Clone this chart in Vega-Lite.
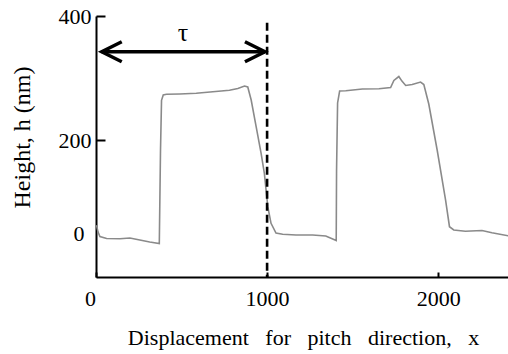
{
  "$schema": "https://vega.github.io/schema/vega-lite/v6.json",
  "width": 412,
  "height": 261,
  "autosize": {"type": "none"},
  "padding": {"left": 96, "top": 16, "right": 0, "bottom": 77},
  "background": "white",
  "config": {
    "view": {"stroke": null},
    "font": "Liberation Serif"
  },
  "datasets": {
    "profile": [
      {"x": 3, "h": 17},
      {"x": 12, "h": 2},
      {"x": 23, "h": -7.5},
      {"x": 62, "h": -11.8},
      {"x": 140, "h": -12.3},
      {"x": 198, "h": -10.8},
      {"x": 256, "h": -15.1},
      {"x": 314, "h": -19.4},
      {"x": 370, "h": -23},
      {"x": 377, "h": 178},
      {"x": 383, "h": 264},
      {"x": 393, "h": 272.6},
      {"x": 412, "h": 273.7},
      {"x": 489, "h": 274.2},
      {"x": 586, "h": 275.3},
      {"x": 683, "h": 277.9},
      {"x": 780, "h": 280.2},
      {"x": 829, "h": 283.1},
      {"x": 868, "h": 287.1},
      {"x": 887, "h": 285.5},
      {"x": 907, "h": 264.5},
      {"x": 936, "h": 221.5},
      {"x": 965, "h": 171.4},
      {"x": 984, "h": 128.4},
      {"x": 1004, "h": 56.6},
      {"x": 1023, "h": 20.9},
      {"x": 1052, "h": 0},
      {"x": 1091, "h": -2.8},
      {"x": 1169, "h": -4.3},
      {"x": 1266, "h": -4.3},
      {"x": 1343, "h": -6.5},
      {"x": 1404, "h": -16.1},
      {"x": 1406, "h": 135.5},
      {"x": 1412, "h": 259.7},
      {"x": 1424, "h": 279},
      {"x": 1460, "h": 279.5},
      {"x": 1557, "h": 282.3},
      {"x": 1654, "h": 282.7},
      {"x": 1722, "h": 284.7},
      {"x": 1741, "h": 296},
      {"x": 1770, "h": 302.4},
      {"x": 1788, "h": 295},
      {"x": 1810, "h": 287.9},
      {"x": 1848, "h": 289.5},
      {"x": 1897, "h": 293.5},
      {"x": 1916, "h": 289.5},
      {"x": 1945, "h": 258},
      {"x": 1994, "h": 178.5},
      {"x": 2043, "h": 71},
      {"x": 2066, "h": 13.5},
      {"x": 2091, "h": 6.5},
      {"x": 2159, "h": 3.7},
      {"x": 2256, "h": 5.4},
      {"x": 2314, "h": 0.6},
      {"x": 2410, "h": -6}
    ]
  },
  "layer": [
    {
      "data": {"name": "profile"},
      "mark": {"type": "line", "color": "#8a8a8a", "strokeWidth": 1.6, "clip": true},
      "encoding": {
        "x": {
          "field": "x",
          "type": "quantitative",
          "scale": {"domain": [0, 2408], "nice": false, "zero": false},
          "axis": {
            "values": [0, 1000, 2000],
            "format": "d",
            "title": "Displacement \u00a0 for \u00a0 pitch \u00a0 direction, \u00a0 x",
            "titleFont": "Liberation Serif",
            "titleFontSize": 22,
            "titleFontWeight": "normal",
            "titleColor": "black",
            "titleX": 207,
            "titleY": 60,
            "titleBaseline": "middle",
            "titleAlign": "center",
            "labelFont": "Liberation Serif",
            "labelFontSize": 22,
            "labelColor": "black",
            "labelFlush": false,
            "labelOverlap": false,
            "labelPadding": 16,
            "labelOffset": {"condition": {"test": "datum.value === 0", "value": -6}, "value": 0},
            "tickSize": -5,
            "tickWidth": 2,
            "tickColor": "black",
            "domainColor": "black",
            "domainWidth": 2,
            "grid": false
          }
        },
        "y": {
          "field": "h",
          "type": "quantitative",
          "scale": {"domain": [-95, 0, 200, 400], "range": [261, 217, 124, 0], "nice": false, "zero": false},
          "axis": {
            "values": [0, 200, 400],
            "format": "d",
            "title": "Height, h (nm)",
            "titleFont": "Liberation Serif",
            "titleFontSize": 24,
            "titleFontWeight": "normal",
            "titleColor": "black",
            "titleX": -74,
            "titleY": 121,
            "titleAngle": -90,
            "titleBaseline": "middle",
            "titleAlign": "center",
            "labelFont": "Liberation Serif",
            "labelFontSize": 22,
            "labelColor": "black",
            "labelFlush": false,
            "labelOverlap": false,
            "labelPadding": {"condition": {"test": "datum.value === 0", "value": 21}, "value": 14},
            "tickSize": -9,
            "tickWidth": 2,
            "tickColor": "black",
            "tickOpacity": {"condition": {"test": "datum.value === 0", "value": 0}, "value": 1},
            "domainColor": "black",
            "domainWidth": 2,
            "grid": false
          }
        }
      }
    },
    {
      "mark": {"type": "rule", "color": "black", "strokeWidth": 2},
      "encoding": {
        "x": {"datum": 0, "type": "quantitative"},
        "x2": {"datum": 2408},
        "y": {"datum": 400, "type": "quantitative"}
      }
    },
    {
      "data": {"values": [{"x": 1000, "top": 389, "bottom": -95}]},
      "mark": {"type": "rule", "color": "black", "strokeWidth": 2.6, "strokeDash": [8, 4]},
      "encoding": {
        "x": {"field": "x", "type": "quantitative"},
        "y": {"field": "top", "type": "quantitative"},
        "y2": {"field": "bottom"}
      }
    },
    {
      "data": {"values": [{"start": 33, "end": 988, "h": 342.4}]},
      "mark": {"type": "rule", "color": "black", "strokeWidth": 3.5},
      "encoding": {
        "x": {"field": "start", "type": "quantitative"},
        "x2": {"field": "end"},
        "y": {"field": "h", "type": "quantitative"}
      }
    },
    {
      "data": {"values": [{"x": 92, "h": 342.4}]},
      "mark": {"type": "point", "shape": "M1,-1L-1,0L1,1", "size": 400, "filled": false, "stroke": "black", "strokeWidth": 3.5, "opacity": 1},
      "encoding": {
        "x": {"field": "x", "type": "quantitative"},
        "y": {"field": "h", "type": "quantitative"}
      }
    },
    {
      "data": {"values": [{"x": 929, "h": 342.4}]},
      "mark": {"type": "point", "shape": "M-1,-1L1,0L-1,1", "size": 400, "filled": false, "stroke": "black", "strokeWidth": 3.5, "opacity": 1},
      "encoding": {
        "x": {"field": "x", "type": "quantitative"},
        "y": {"field": "h", "type": "quantitative"}
      }
    },
    {
      "data": {"values": [{"x": 508, "h": 372.6, "label": "τ"}]},
      "mark": {"type": "text", "font": "Liberation Serif", "fontSize": 26, "color": "black"},
      "encoding": {
        "x": {"field": "x", "type": "quantitative"},
        "y": {"field": "h", "type": "quantitative"},
        "text": {"field": "label"}
      }
    }
  ]
}
